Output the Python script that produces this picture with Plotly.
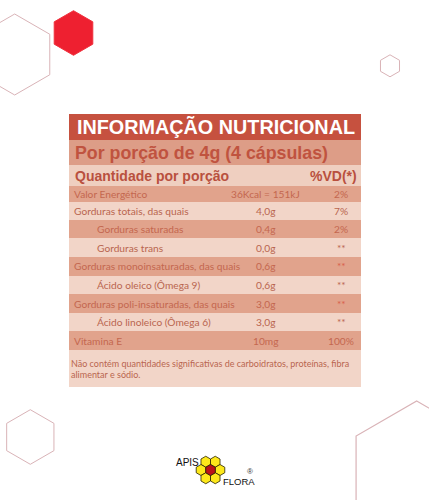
import math
import numpy as np
import plotly.graph_objects as go

# table content
row_names = ['Valor Energético', 'Gorduras totais, das quais', 'Gorduras saturadas', 'Gorduras trans',
             'Gorduras monoinsaturadas, das quais', 'Ácido oleico (Ômega 9)',
             'Gorduras poli-insaturadas, das quais', 'Ácido linoleico (Ômega 6)', 'Vitamina E']
row_amounts = ['36Kcal = 151kJ', '4,0g', '0,4g', '0,0g', '0,6g', '0,6g', '3,0g', '3,0g', '10mg']
row_vd = ['2%', '7%', '2%', '**', '**', '**', '**', '**', '100%']
row_indent = [False, False, True, True, False, True, False, True, False]
footer_lines = ['Não contém quantidades significativas de carboidratos, proteínas, fibra', 'alimentar e sódio.']

# band layout, in image pixels
band_edges = [113.5, 140, 165, 186, 202, 220, 238, 257, 275.5, 294, 313, 331, 350, 387]
band_colors = ['#c6513f', '#dd9d87', '#efcfc0', '#e1a38c', '#f2d5c8', '#e1a38c', '#f2d5c8', '#e1a38c',
               '#f2d5c8', '#e1a38c', '#f2d5c8', '#e1a38c', '#f2d5c8']
TABLE_LEFT = 68.5
TABLE_RIGHT = 361
BODY_FONT = 'Lato'

edges = np.array(band_edges)
fig = go.Figure()
fig.add_trace(go.Bar(
    y=(edges[:-1] + edges[1:]) / 2,
    x=[TABLE_RIGHT - TABLE_LEFT] * len(band_colors),
    base=TABLE_LEFT,
    width=np.diff(edges),
    orientation='h',
    marker=dict(color=band_colors, line=dict(width=0)),
    hoverinfo='skip',
))


def hexagon(cx, cy, r, line='#d9b3b7', fill='rgba(0,0,0,0)', width=1):
    # pointy top hexagon
    pts = []
    for k in range(6):
        a = math.radians(60 * k - 90)
        pts.append('%.2f %.2f' % (cx + r * math.cos(a), cy + r * math.sin(a)))
    path = 'M ' + ' L '.join(pts) + ' Z'
    fig.add_shape(type='path', path=path, xref='x', yref='y', line=dict(color=line, width=width),
                  fillcolor=fill, layer='above')


def label(x, y, text, size, color, anchor='left', font=BODY_FONT, bold=False):
    if bold:
        text = '<b>' + text + '</b>'
    fig.add_annotation(x=x, y=y, text=text, xref='x', yref='y', showarrow=False, xanchor=anchor, yanchor='middle',
                       align=anchor, borderpad=0, borderwidth=0, font=dict(family=font, size=size, color=color))


# outline hexagons around the table
hexagon(14.7, 54.5, 40.5)
hexagon(390, 65.8, 11)
hexagon(30.3, 437, 27.3)
hexagon(416.7, 471, 70, width=1.2)
hexagon(73.5, 33, 22.3, line='#f0303c', fill='#ee2030')

# headings
label(77, 127, 'INFORMAÇÃO NUTRICIONAL', 19.8, '#ffffff', font='Liberation Sans', bold=True)
label(75, 153, 'Por porção de 4g (4 cápsulas)', 17.8, '#c0533f', font='Liberation Sans', bold=True)
label(75, 175.5, 'Quantidade por porção', 14, '#b9503e', font='Liberation Sans', bold=True)
label(357, 175.5, '%VD(*)', 14, '#b9503e', anchor='right', font='Liberation Sans', bold=True)

# rows
for i, name in enumerate(row_names):
    y = (band_edges[i + 3] + band_edges[i + 4]) / 2
    dark = i % 2 == 0
    color = '#c4674f' if dark else '#b9654f'
    label(96.5 if row_indent[i] else 74, y, name, 10.2, color)
    label(265.5, y, row_amounts[i], 10.2, color, anchor='center')
    label(341, y, row_vd[i], 10.2, '#d8604a' if row_vd[i] == '**' and dark else color, anchor='center')

label(71, 363, footer_lines[0], 9, '#b9654f')
label(71, 374.6, footer_lines[1], 9, '#b9654f')

# logo
LOGO_X = 210.5
LOGO_Y = 470
LOGO_R = 5.5
w = math.sqrt(3) * LOGO_R
for dx, dy in [(-0.5, -1), (0.5, -1), (-1, 0), (1, 0), (-0.5, 1), (0.5, 1)]:
    hexagon(LOGO_X + dx * w, LOGO_Y + dy * 1.5 * LOGO_R, LOGO_R, line='#2a2200', fill='#fde81a', width=0.8)
hexagon(LOGO_X, LOGO_Y, LOGO_R, line='#2a2200', fill='#bb1218', width=0.8)
label(176, 462, 'APIS', 10, '#111111', font='Liberation Sans')
label(223, 481, 'FLORA', 9.5, '#111111', font='Liberation Sans')
label(250, 471, '®', 8, '#333333', anchor='center', font='Liberation Sans')

fig.update_xaxes(range=[0, 429], visible=False, fixedrange=True)
fig.update_yaxes(range=[500, 0], visible=False, fixedrange=True)
fig.update_layout(width=429, height=500, margin=dict(l=0, r=0, t=0, b=0), paper_bgcolor='white',
                  plot_bgcolor='white', showlegend=False, bargap=0)
fig.write_html("out.html", post_script="document.body.style.margin='0';", config=dict(displayModeBar=False))
